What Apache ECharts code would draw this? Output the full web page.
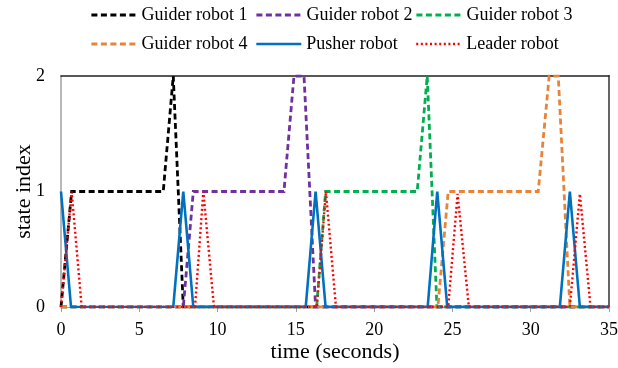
<!DOCTYPE html>
<html>
<head>
<meta charset="utf-8">
<script src="https://cdn.jsdelivr.net/npm/echarts@6/dist/echarts.min.js"></script>
<style>
html,body{margin:0;padding:0;background:#fff;}
#c{width:618px;height:368px;}
</style>
</head>
<body>
<div id="c"></div>
<script>
// ---- data (time in seconds, state index) ----
const seriesNames = ['Guider robot 1','Guider robot 2','Guider robot 3','Guider robot 4','Pusher robot','Leader robot'];
const xTicks = [0,5,10,15,20,25,30,35];
const yTicks = [0,1,2];

const guider1 = [[0,0],[0.68,1],[6.53,1],[7.17,2],[7.81,0],[35,0]];
const guider2 = [[0,0],[7.81,0],[8.45,1],[14.24,1],[14.88,2],[15.52,2],[16.26,0],[35,0]];
const guider3 = [[0,0],[16.33,0],[16.9,1],[22.75,1],[23.39,2],[24.01,0],[35,0]];
const guider4 = [[0,0],[24.07,0],[24.73,1],[30.48,1],[31.18,2],[31.76,2],[32.5,0],[35,0]];
const pusher  = [[0,1],[0.64,0],[7.17,0],[7.81,1],[8.45,0],[15.63,0],[16.26,1],[16.9,0],
                 [23.42,0],[24.03,1],[24.67,0],[31.86,0],[32.5,1],[33.14,0],[35,0]];
const leader  = [[0,0],[0.68,1],[1.32,0],[8.56,0],[9.09,1],[9.77,0],[16.33,0],[16.92,1],[17.56,0],
                 [24.73,0],[25.33,0.98],[26.05,0],[32.5,0],[33.14,0.98],[33.82,0],[35,0]];

const seriesData = [guider1, guider2, guider3, guider4, pusher, leader];

// ---- styles ----
const colors = ['#000000','#7030A0','#00B050','#E8833A','#0070C0','#FF0000'];
const dash = [[6,3.5],[6,3.5],[6,3.5],[6,3.5],'solid',[2,2.6]];
const widths = [2.8,2.8,2.8,2.8,2.6,2.4];
const FONT = '"Liberation Serif","Times New Roman",serif';

const legendPos = [[90,6],[255,6],[415,6],[90,35],[255,35],[415,35]];

const chart = echarts.init(document.getElementById('c'), null, {renderer:'canvas'});

const legends = seriesNames.map((n,i)=>({
  data:[n], left:legendPos[i][0], top:legendPos[i][1], padding:0,
  itemWidth:45, itemHeight:14, itemGap:5,
  itemStyle:{color:'rgba(0,0,0,0)', borderWidth:0, opacity:0},
  lineStyle:{color:colors[i], width:widths[i], type:dash[i], cap:'butt', opacity:1},
  textStyle:{fontFamily:FONT, fontSize:18, color:'#000'},
  selectedMode:false
}));

const series = seriesNames.map((n,i)=>({
  name:n, type:'line', xAxisIndex:0, yAxisIndex:0,
  data:seriesData[i], symbol:'none', animation:false,
  lineStyle:{color:colors[i], width:widths[i], type:dash[i], cap:'butt', join:'miter'},
  itemStyle:{color:colors[i]},
  z: 2+i
}));

chart.setOption({
  animation:false,
  backgroundColor:'#fff',
  legend: legends,
  grid:{left:61, right:9, top:76, bottom:61, containLabel:false, outerBoundsMode:'none'},
  xAxis:[{
    type:'value', min:0, max:35, interval:5, position:'bottom',
    name:'time (seconds)', nameLocation:'middle', nameGap:34, nameMoveOverlap:false,
    nameTextStyle:{fontFamily:FONT, fontSize:22, color:'#000'},
    axisLine:{show:true, lineStyle:{color:'#a0a0a0', width:1}},
    axisTick:{show:true, length:5, lineStyle:{color:'#a0a0a0'}},
    axisLabel:{fontFamily:FONT, fontSize:18, color:'#000', margin:14,
      formatter:v=> xTicks.includes(v) ? String(v) : ''},
    splitLine:{show:false}
  },{
    type:'value', min:0, max:35, position:'top',
    axisLine:{show:true, onZero:false, lineStyle:{color:'#222', width:1.5}},
    axisTick:{show:false}, axisLabel:{show:false}, splitLine:{show:false}
  }],
  yAxis:[{
    type:'value', min:0, max:2, interval:1, position:'left',
    name:'state index', nameLocation:'middle', nameGap:26, nameRotate:90, nameMoveOverlap:false,
    nameTextStyle:{fontFamily:FONT, fontSize:22, color:'#000'},
    axisLine:{show:true, lineStyle:{color:'#a0a0a0', width:1.5}},
    axisTick:{show:false},
    axisLabel:{fontFamily:FONT, fontSize:18, color:'#000', margin:16,
      formatter:v=> yTicks.includes(v) ? String(v) : ''},
    splitLine:{show:false}
  },{
    type:'value', min:0, max:2, position:'right',
    axisLine:{show:true, onZero:false, lineStyle:{color:'#555', width:1.8}},
    axisTick:{show:false}, axisLabel:{show:false}, splitLine:{show:false}
  }],
  series: series
});
</script>
</body>
</html>
